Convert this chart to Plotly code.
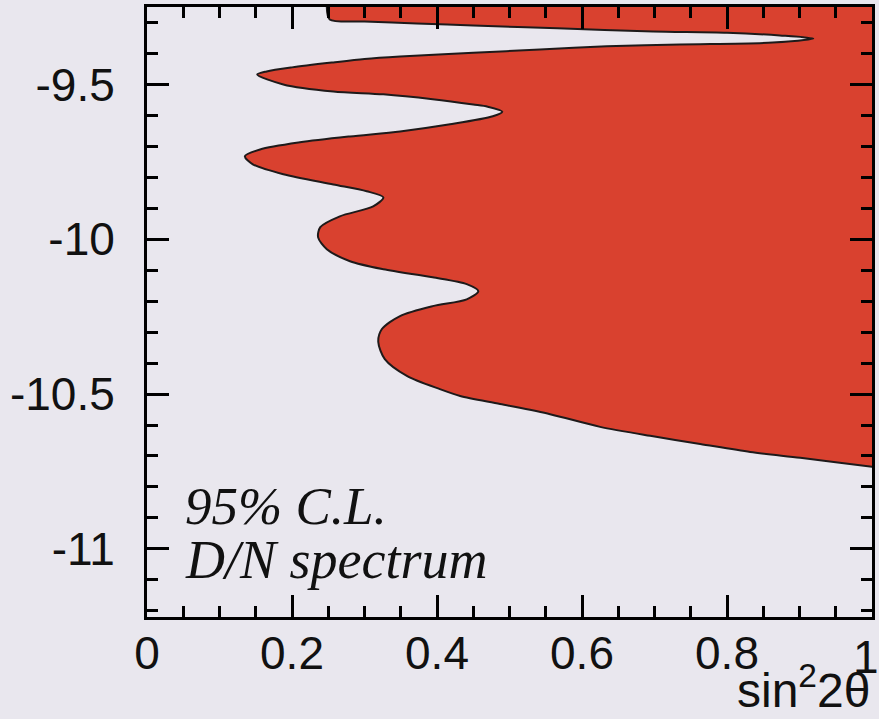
import plotly.graph_objects as go

# Exclusion contour (95% C.L., day/night spectrum): sin^2(2theta) vs log10(dm^2)
# Boundary traced from the upper strip, around the long excluded tongue,
# down the lobed left edge and along the lower edge to sin^2(2theta) = 1.
sin2_2theta = [
    0.248, 0.252, 0.300, 0.372, 0.450, 0.566, 0.698, 0.800, 0.873, 0.919,
    0.863, 0.735, 0.634, 0.542, 0.450, 0.349, 0.300, 0.257, 0.200, 0.165, 0.152,
    0.188, 0.257, 0.326, 0.394, 0.450, 0.470, 0.490,
    0.477, 0.418, 0.349, 0.280, 0.211, 0.156, 0.135,
    0.146, 0.188, 0.257, 0.303, 0.326,
    0.312, 0.266, 0.239, 0.236,
    0.248, 0.280, 0.326, 0.394, 0.441, 0.457,
    0.441, 0.394, 0.349, 0.324, 0.319,
    0.328, 0.359, 0.404, 0.432, 0.487, 0.556, 0.625, 0.694, 0.763, 0.832, 0.901, 1.000,
]
log_dm2 = [
    -9.250, -9.290, -9.297, -9.303, -9.310, -9.319, -9.329, -9.333, -9.342, -9.352,
    -9.365, -9.371, -9.377, -9.387, -9.398, -9.410, -9.418, -9.429, -9.445, -9.458, -9.468,
    -9.500, -9.523, -9.532, -9.548, -9.565, -9.572, -9.588,
    -9.603, -9.629, -9.652, -9.668, -9.687, -9.710, -9.732,
    -9.758, -9.790, -9.823, -9.845, -9.865,
    -9.894, -9.926, -9.961, -9.994,
    -10.032, -10.071, -10.097, -10.123, -10.145, -10.168,
    -10.194, -10.216, -10.248, -10.290, -10.332,
    -10.387, -10.442, -10.484, -10.506, -10.532, -10.565, -10.606, -10.635, -10.661, -10.687, -10.706, -10.735,
]

# Region closes outside the visible window (clipped by the axes)
outer_s2 = [1.06, 1.06, 0.248]
outer_dm = [-10.755, -9.10, -9.10]

x_range = [0.0, 1.0]
y_range = [-11.22, -9.25]
x_ticks = [0.0, 0.2, 0.4, 0.6, 0.8, 1.0]
x_ticktext = ["0", "0.2", "0.4", "0.6", "0.8", "1"]
y_ticks = [-11.0, -10.5, -10.0, -9.5]
y_ticktext = ["-11", "-10.5", "-10", "-9.5"]

BG = "#e9e7ee"
FILL = "#d9412f"
SANS = "Liberation Sans, Arial, sans-serif"
SERIF = "Liberation Serif, Times New Roman, serif"
TICK_FONT = dict(family=SANS, size=46, color="#111")

fig = go.Figure()
fig.add_trace(go.Scatter(
    x=sin2_2theta + outer_s2,
    y=log_dm2 + outer_dm,
    mode="lines",
    fill="toself",
    fillcolor=FILL,
    line=dict(color="#1e1a1a", width=2, shape="spline", smoothing=0.8),
    hoverinfo="skip",
    showlegend=False,
))

axis_common = dict(
    automargin=False,
    showgrid=False,
    zeroline=False,
    showline=True,
    linecolor="black",
    linewidth=3,
    mirror="ticks",
    ticks="inside",
    tickcolor="black",
    tickwidth=3,
    ticklen=22,
    tickfont=TICK_FONT,
)

# The last x label sits at the page edge, so it is placed separately
# and nudged inward to stay fully visible.
fig.update_xaxes(
    range=x_range,
    tickmode="array",
    tickvals=x_ticks,
    ticktext=x_ticktext[:-1] + [""],
    ticklabelstandoff=-6,
    minor=dict(tickmode="linear", tick0=0, dtick=0.05, ticks="inside",
               ticklen=11, tickwidth=2.5, tickcolor="black"),
    **axis_common,
)
fig.add_annotation(
    x=x_ticks[-1], y=-0.066, xref="x", yref="paper",
    xanchor="center", yanchor="middle", xshift=-6,
    text=x_ticktext[-1], showarrow=False, font=TICK_FONT,
)
fig.update_yaxes(
    range=y_range,
    tickmode="array",
    tickvals=y_ticks,
    ticktext=y_ticktext,
    ticklabelstandoff=20,
    minor=dict(tickmode="linear", tick0=-11, dtick=0.1, ticks="inside",
               ticklen=11, tickwidth=2.5, tickcolor="black"),
    **axis_common,
)

fig.add_annotation(
    x=1.0, y=-0.167, xref="paper", yref="paper",
    xanchor="right", yanchor="bottom",
    text="sin<sup>2</sup>2θ", showarrow=False,
    font=dict(family=SANS, size=48, color="#111"),
)
fig.add_annotation(
    x=0.05, y=-10.86, xref="x", yref="y",
    xanchor="left", yanchor="middle",
    text="<i>95% C.L.</i>", showarrow=False,
    font=dict(family=SERIF, size=53, color="#111"),
)
fig.add_annotation(
    x=0.05, y=-11.035, xref="x", yref="y",
    xanchor="left", yanchor="middle",
    text="<i>D/N spectrum</i>", showarrow=False,
    font=dict(family=SERIF, size=54, color="#111"),
)

fig.update_layout(
    width=879,
    height=719,
    margin=dict(l=147, r=7, t=7, b=102, pad=0, autoexpand=False),
    paper_bgcolor=BG,
    plot_bgcolor=BG,
)

fig.write_html("out.html")
